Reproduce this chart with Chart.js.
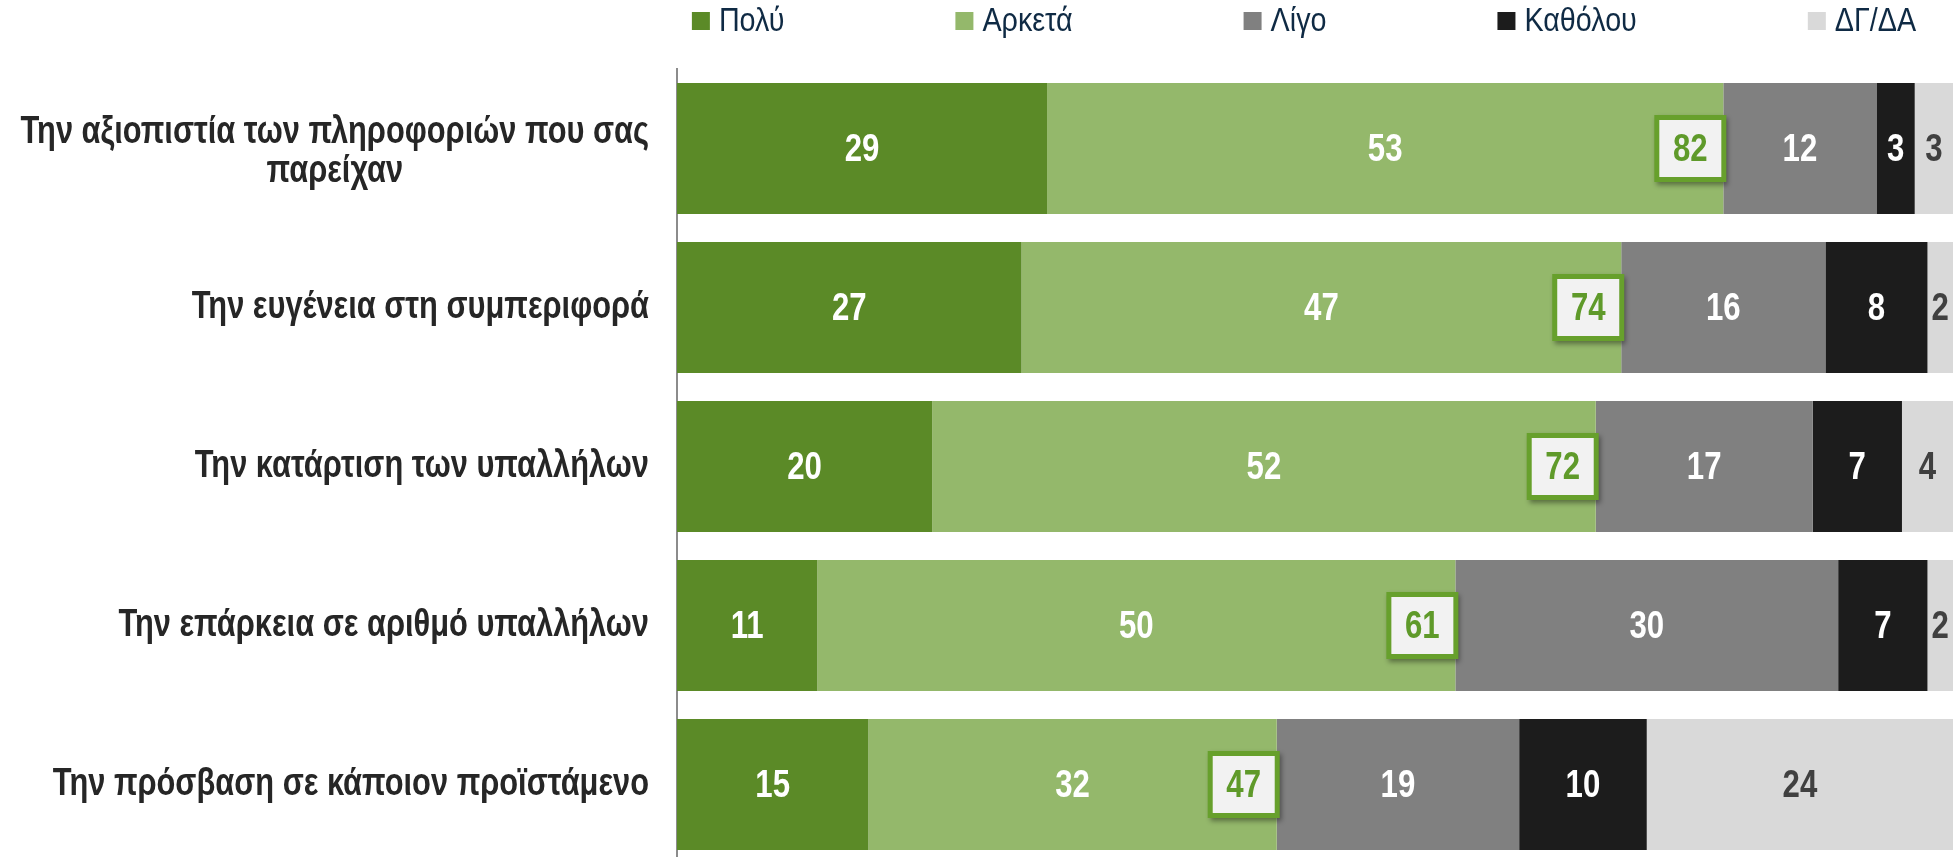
<!DOCTYPE html>
<html lang="el">
<head>
<meta charset="utf-8">
<title>Αξιολόγηση υπαλλήλων</title>
<script src="https://cdn.jsdelivr.net/npm/chart.js@4.4.1/dist/chart.umd.min.js"></script>
<style>
  html, body { margin: 0; padding: 0; background: #fff; overflow: hidden; }
  #wrap { width: 1955px; height: 864px; }
</style>
</head>
<body>
<div id="wrap"><canvas id="myChart"></canvas></div>
<script>
// Chart data
const categories = [
  ["Την αξιοπιστία των πληροφοριών που σας", "παρείχαν"],
  "Την ευγένεια στη συμπεριφορά",
  "Την κατάρτιση των υπαλλήλων",
  "Την επάρκεια σε αριθμό υπαλλήλων",
  "Την πρόσβαση σε κάποιον προϊστάμενο",
];
const seriesNames = ["Πολύ", "Αρκετά", "Λίγο", "Καθόλου", "ΔΓ/ΔΑ"];
const poly = [29, 27, 20, 11, 15];
const arketa = [53, 47, 52, 50, 32];
const ligo = [12, 16, 17, 30, 19];
const katholou = [3, 8, 7, 7, 10];
const dgda = [3, 2, 4, 2, 24];
const totals = [82, 74, 72, 61, 47]; // Πολύ + Αρκετά, boxed

const colors = ["#5b8a27", "#94b86b", "#808080", "#1c1c1c", "#d9d9d9"];
const valueColors = ["#ffffff", "#ffffff", "#ffffff", "#ffffff", "#404040"];
const FONT = '"Liberation Sans", Arial, sans-serif';

const ctx = document.getElementById("myChart");

// condensed text: squeeze glyphs horizontally around the anchor
function narrowText(c, text, x, y, sx) {
  c.save();
  c.translate(x, y);
  c.scale(sx, 1);
  c.fillText(text, 0, 0);
  c.restore();
}

// values inside segments + boxed totals
const segmentLabels = {
  id: "segmentLabels",
  afterDatasetsDraw: (chart) => {
    const c = chart.ctx;
    c.save();
    c.font = "bold 39px " + FONT;
    c.textAlign = "center";
    c.textBaseline = "middle";
    chart.data.datasets.forEach((ds, d) => {
      chart.getDatasetMeta(d).data.forEach((bar, i) => {
        c.fillStyle = valueColors[d];
        narrowText(c, ds.data[i], (bar.x + bar.base) / 2, bar.y + 2, 0.8);
      });
    });
    chart.getDatasetMeta(1).data.forEach((bar, i) => {
      const w = 72, h = 67;
      const x = bar.x + 3 - w, y = bar.y - h / 2;
      c.save();
      c.shadowColor = "rgba(0,0,0,0.4)";
      c.shadowBlur = 5;
      c.shadowOffsetX = 2;
      c.shadowOffsetY = 3;
      c.fillStyle = "#67a02c";
      c.fillRect(x, y, w, h);
      c.restore();
      c.fillStyle = "#f2f2f2";
      c.fillRect(x + 5, y + 5, w - 10, h - 10);
      c.fillStyle = "#5f9a2a";
      narrowText(c, totals[i], x + w / 2, bar.y + 2, 0.8);
    });
    c.restore();
  },
};

// category labels, multi-line ones centered on their widest line
const categoryLabels = {
  id: "categoryLabels",
  afterDraw: (chart) => {
    const c = chart.ctx;
    const yScale = chart.scales.y;
    const right = chart.chartArea.left - 28;
    const sx = 0.79;
    c.save();
    c.font = "bold 39px " + FONT;
    c.fillStyle = "#262626";
    c.textAlign = "center";
    c.textBaseline = "middle";
    chart.data.labels.forEach((lab, i) => {
      const lines = Array.isArray(lab) ? lab : [lab];
      const wMax = Math.max(...lines.map((l) => c.measureText(l).width)) * sx;
      const cy = yScale.getPixelForTick(i);
      lines.forEach((l, k) => {
        const off = lines.length > 1 ? 3 : 0;
        narrowText(c, l, right - wMax / 2, cy + (k - (lines.length - 1) / 2) * 39 + off, sx);
      });
    });
    c.restore();
  },
};

// legend on top
const topLegend = {
  id: "topLegend",
  afterDraw: (chart) => {
    const c = chart.ctx;
    const area = chart.chartArea;
    const box = 18, textGap = 9, itemGap = 171, cy = 21, sx = 0.87;
    c.save();
    c.font = "33px " + FONT;
    c.textBaseline = "middle";
    c.textAlign = "left";
    const widths = chart.data.datasets.map((ds) => c.measureText(ds.label).width * sx);
    const total = widths.reduce((a, w) => a + box + textGap + w, 0) + itemGap * (widths.length - 1);
    let x = (area.left + area.right) / 2 - 11 - total / 2;
    chart.data.datasets.forEach((ds, d) => {
      c.fillStyle = ds.backgroundColor;
      c.fillRect(x, cy - box / 2, box, box);
      c.fillStyle = "#0f2a44";
      narrowText(c, ds.label, x + box + textGap, cy + 1, sx);
      x += box + textGap + widths[d] + itemGap;
    });
    c.restore();
  },
};

const seriesData = [poly, arketa, ligo, katholou, dgda];

const data = {
  labels: categories,
  datasets: seriesNames.map((name, d) => ({
    label: name,
    data: seriesData[d],
    backgroundColor: colors[d],
    borderWidth: 0,
    barPercentage: 0.824,
    categoryPercentage: 1,
  })),
};

const config = {
  type: "bar",
  data,
  options: {
    indexAxis: "y",
    responsive: true,
    maintainAspectRatio: false,
    animation: false,
    layout: { padding: { top: 69, left: 677, right: 2, bottom: 0 } },
    plugins: {
      legend: { display: false },
      tooltip: { enabled: false },
    },
    scales: {
      x: { stacked: true, min: 0, max: 100, display: false },
      y: {
        stacked: true,
        ticks: { display: false },
        grid: { display: false, drawTicks: false },
        border: { display: true, color: "#8c8c8c", width: 2 },
        afterFit: (s) => { s.width = 0; },
      },
    },
  },
  plugins: [segmentLabels, categoryLabels, topLegend],
};

new Chart(ctx, config);
</script>
</body>
</html>
